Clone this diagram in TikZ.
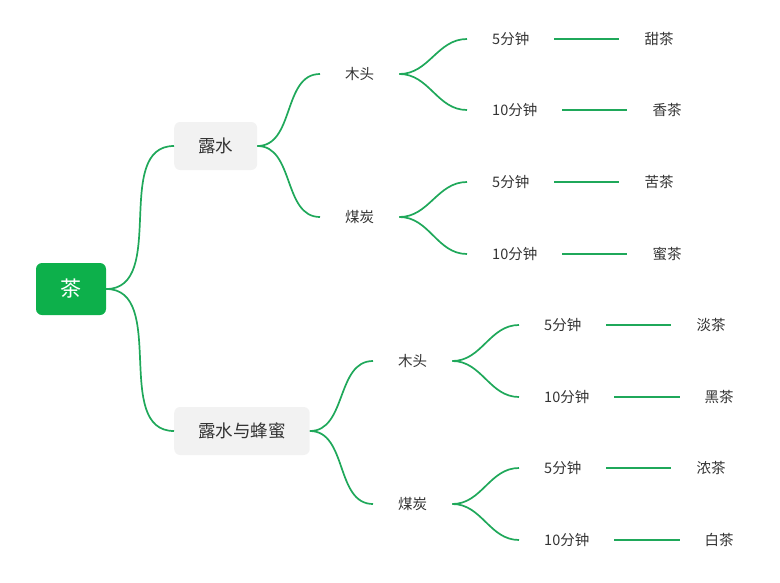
\documentclass[tikz,border=0pt]{standalone}
\usepackage{fontspec}
\setmainfont{Noto Sans CJK SC}
\usepackage{tikz}
\usetikzlibrary{positioning}
\definecolor{rootgreen}{HTML}{0DB04B}
\definecolor{linegreen}{HTML}{1FA85A}
\definecolor{topicgray}{HTML}{F2F2F2}
\definecolor{labeltext}{HTML}{333333}

\begin{document}
\begin{tikzpicture}[x=1pt, y=-1pt,
    rootbox/.style={fill=rootgreen, rounded corners=6pt, text=white, minimum width=70, minimum height=52, font=\fontsize{21}{25}\selectfont},
    topicbox/.style={fill=topicgray, rounded corners=6pt, text=labeltext, inner xsep=24pt, minimum height=48, font=\fontsize{17.5}{21}\selectfont},
    plainlabel/.style={text=labeltext, inner xsep=25pt, inner ysep=2pt, font=\fontsize{14.5}{17}\selectfont},
    branch/.style={draw=linegreen, line width=1.7pt, out=0, in=180},
    link/.style={draw=linegreen, line width=1.7pt}]
    \useasboundingbox (0,0) rectangle (780,582);

    % Root and first level
    \node[rootbox] (tea) at (71,289) {茶};
    \node[topicbox, anchor=west] (dew) at (174,146) {露水};
    \node[topicbox, anchor=west] (dewhoney) at (174,431) {露水与蜂蜜};
    \draw[branch] (tea.east) to (dew.west);
    \draw[branch] (tea.east) to (dewhoney.west);

    % Fuel
    \node[plainlabel, anchor=west] (woodA) at (320,74) {木头};
    \node[plainlabel, anchor=west] (coalA) at (320,217) {煤炭};
    \node[plainlabel, anchor=west] (woodB) at (373,361) {木头};
    \node[plainlabel, anchor=west] (coalB) at (373,504) {煤炭};
    \draw[branch] (dew.east) to (woodA.west);
    \draw[branch] (dew.east) to (coalA.west);
    \draw[branch] (dewhoney.east) to (woodB.west);
    \draw[branch] (dewhoney.east) to (coalB.west);

    % Brewing time and result
    \foreach \p/\x/\y/\n/\t/\r in {woodA/467/39/a/5分钟/甜茶, woodA/467/110/b/10分钟/香茶,
        coalA/467/182/a/5分钟/苦茶, coalA/467/254/b/10分钟/蜜茶,
        woodB/519/325/a/5分钟/淡茶, woodB/519/397/b/10分钟/黑茶,
        coalB/519/468/a/5分钟/浓茶, coalB/519/540/b/10分钟/白茶} {
        \node[plainlabel, anchor=west] (\p\n) at (\x,\y) {\t};
        \node[plainlabel, right=65pt of \p\n] (\p\n res) {\r};
        \draw[branch] (\p.east) to (\p\n.west);
        \draw[link] (\p\n.east) -- (\p\n res.west);
    }
\end{tikzpicture}
\end{document}
